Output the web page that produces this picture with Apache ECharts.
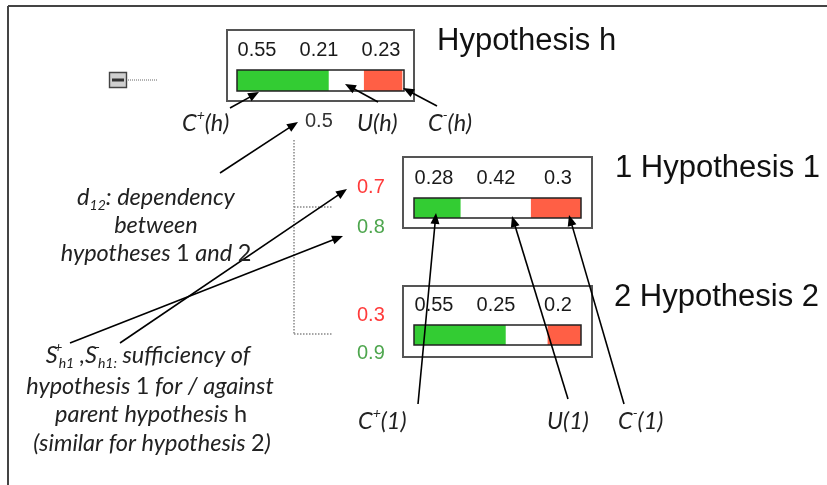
<!DOCTYPE html>
<html>
<head>
<meta charset="utf-8">
<script src="https://cdn.jsdelivr.net/npm/echarts@6/dist/echarts.min.js"></script>
<style>html,body{margin:0;padding:0;background:#fff}#c{width:827px;height:485px}</style>
</head>
<body>
<div id="c"></div>
<script>
// ---- data ----
const nodeNames = ['Hypothesis h', '1 Hypothesis 1', '2 Hypothesis 2'];
const confirmVals = [0.55, 0.28, 0.55];     // C+
const uncertainVals = [0.21, 0.42, 0.25];   // U
const disconfirmVals = [0.23, 0.3, 0.2];    // C-
const dependencyVal = 0.5;                  // d12
const sufAgainst = [0.7, 0.3];              // S- (red)
const sufFor = [0.8, 0.9];                  // S+ (green)

// ---- layout ----
const bars = [
  {left: 237, top: 70, width: 167, height: 21, box: [227, 30, 187, 71], numY: 50, title: [437, 41]},
  {left: 414, top: 198, width: 167, height: 20, box: [403, 157, 189, 71], numY: 178, title: [615, 168]},
  {left: 414, top: 325, width: 167, height: 20, box: [403, 286, 189, 71], numY: 305, title: [614, 297]}
];
const GREEN = '#33cc33', RED = '#ff5f45';
const SANS = '"Liberation Sans", Arial, sans-serif';
const ITAL = 'Lato, "Open Sans", sans-serif';
const FS = 23.5, FSS = 14;

const chart = echarts.init(document.getElementById('c'));

const grids = [], xAxes = [], yAxes = [], series = [];
bars.forEach((b, i) => {
  grids.push({left: b.left, top: b.top, width: b.width, height: b.height, containLabel: false});
  xAxes.push({type: 'value', gridIndex: i, min: 0, max: 1, show: false});
  yAxes.push({type: 'category', gridIndex: i, data: [nodeNames[i]], show: false});
  [[confirmVals, GREEN], [uncertainVals, '#ffffff'], [disconfirmVals, RED]].forEach(([arr, col]) => {
    series.push({
      type: 'bar', xAxisIndex: i, yAxisIndex: i, stack: 's' + i,
      data: [arr[i]], barWidth: '100%', itemStyle: {color: col}, silent: true, animation: false
    });
  });
});

const g = [];
function line(x1, y1, x2, y2, stroke, w, dash) {
  g.push({type: 'line', z: 10, shape: {x1, y1, x2, y2}, style: {stroke: stroke || '#000', lineWidth: w || 1.5, lineDash: dash || null}});
}
function arrow(x1, y1, x2, y2) {
  const a = Math.atan2(y2 - y1, x2 - x1), L = 11, W = 4.5;
  const bx = x2 - L * Math.cos(a), by = y2 - L * Math.sin(a);
  const px = -Math.sin(a) * W, py = Math.cos(a) * W;
  line(x1, y1, bx + Math.cos(a) * 2, by + Math.sin(a) * 2, '#000', 1.6);
  g.push({type: 'polygon', z: 11, shape: {points: [[x2, y2], [bx + px, by + py], [bx - px, by - py]]}, style: {fill: '#000'}});
}
function text(x, y, t, opt) {
  opt = opt || {};
  g.push({type: 'text', z: 12, x, y, style: Object.assign({
    text: t, fill: '#1a1a1a', fontSize: 20, fontFamily: SANS, align: 'left', verticalAlign: 'middle'
  }, opt)});
}
const richDef = {
  i: {fontFamily: ITAL, fontStyle: 'italic', fontSize: FS, lineHeight: 30, fill: '#222'},
  n: {fontFamily: ITAL, fontSize: FS, lineHeight: 30, fill: '#222'},
  sub: {fontFamily: ITAL, fontStyle: 'italic', fontSize: FSS, lineHeight: 14, verticalAlign: 'bottom', fill: '#222'},
  sup: {fontFamily: ITAL, fontStyle: 'italic', fontSize: FSS, lineHeight: 14, verticalAlign: 'top', fill: '#222'},
  supz: {fontFamily: ITAL, fontStyle: 'italic', fontSize: FSS, lineHeight: 14, verticalAlign: 'top', width: 1, fill: '#222'}
};
function rtext(x, y, t, align) {
  g.push({type: 'text', z: 12, x, y, style: {
    text: t, rich: richDef, align: align || 'left', verticalAlign: 'middle', fontFamily: ITAL, fontSize: FS
  }});
}

// frame
line(8, 6, 827, 6, '#444', 2);
line(8, 6, 8, 485, '#444', 2);

// collapse icon
g.push({type: 'rect', z: 10, shape: {x: 109.5, y: 72.5, width: 17, height: 15}, style: {fill: '#d0d0d0', stroke: '#444', lineWidth: 1.4}});
line(112, 80, 124, 80, '#333', 3);
line(128, 80, 157, 80, '#666', 1, [1, 1]);

// tree lines
line(294, 140, 294, 334, '#888', 1.5, [1.5, 1.5]);
line(294, 207, 333, 207, '#888', 1.5, [1.5, 1.5]);
line(294, 334, 333, 334, '#888', 1.5, [1.5, 1.5]);

// boxes, bar outlines, numbers, titles
bars.forEach((b, i) => {
  g.push({type: 'rect', z: 9, shape: {x: b.box[0], y: b.box[1], width: b.box[2], height: b.box[3]}, style: {fill: 'none', stroke: '#555', lineWidth: 2}});
  g.push({type: 'rect', z: 10, shape: {x: b.left, y: b.top, width: b.width, height: b.height}, style: {fill: 'none', stroke: '#222', lineWidth: 1.5}});
  const vals = [confirmVals[i], uncertainVals[i], disconfirmVals[i]];
  vals.forEach((v, k) => text(b.left + 20 + k * 62, b.numY, String(v), {align: 'center', fontSize: 20, fill: '#1a1a1a'}));
  text(b.title[0], b.title[1], nodeNames[i], {fontSize: 31, fill: '#111'});
});

// dependency & sufficiency values
text(305, 121, String(dependencyVal), {fill: '#333'});
text(357, 187, String(sufAgainst[0]), {fill: '#ff3b3b'});
text(357, 227, String(sufFor[0]), {fill: '#4ea64e'});
text(357, 315, String(sufAgainst[1]), {fill: '#ff3b3b'});
text(357, 353, String(sufFor[1]), {fill: '#4ea64e'});

// labels
rtext(182, 123, '{i|C}{sup|+}{i|(h)}');
rtext(357, 123, '{i|U(h)}');
rtext(428, 123, '{i|C}{sup|-}{i|(h)}');
rtext(358, 421, '{i|C}{sup|+}{i|(1)}');
rtext(547, 421, '{i|U(1)}');
rtext(618, 421, '{i|C}{sup|-}{i|(1)}');

rtext(156, 197, '{i|d}{sub|12}{i|: dependency}', 'center');
rtext(156, 225, '{i|between}', 'center');
rtext(156, 253, '{i|hypotheses }{n|1}{i| and }{n|2}', 'center');

rtext(148, 355, '{i|S}{supz|+}{sub|h1}{i| ,S}{supz|-}{sub|h1:}{i| sufficiency of}', 'center');
rtext(150, 386, '{i|hypothesis }{n|1}{i| for / against}', 'center');
rtext(151, 414, '{i|parent hypothesis }{n|h}', 'center');
rtext(152, 443, '{i|(similar for hypothesis }{n|2}{i|)}', 'center');

// arrows
arrow(230, 108, 259, 92);
arrow(378, 102, 345, 84);
arrow(437, 106, 403, 88);
arrow(220, 173, 298, 122);
arrow(120, 343, 347, 189);
arrow(70, 343, 343, 236);
arrow(418, 404, 436, 213);
arrow(568, 399, 512, 216);
arrow(624, 404, 569, 215);

chart.setOption({
  animation: false,
  backgroundColor: '#fff',
  grid: grids, xAxis: xAxes, yAxis: yAxes, series,
  graphic: g
});
</script>
</body>
</html>
